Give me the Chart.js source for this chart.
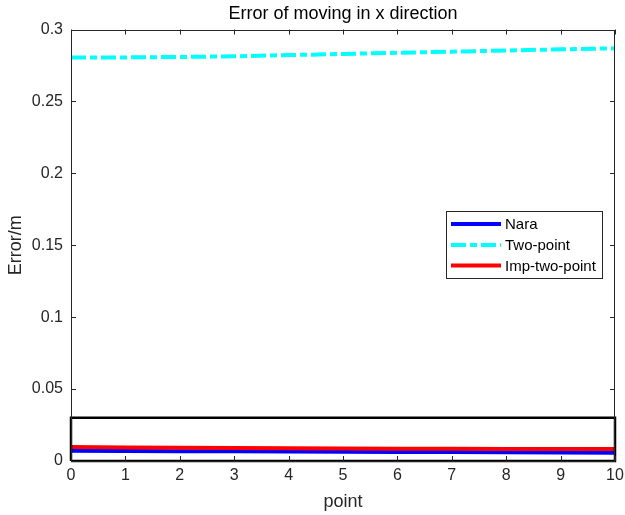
<!DOCTYPE html>
<html>
<head>
<meta charset="utf-8">
<script src="https://cdn.jsdelivr.net/npm/chart.js@4/dist/chart.umd.min.js"></script>
<style>
  html, body { margin: 0; padding: 0; background: #fff; }
  #wrap { width: 625px; height: 515px; position: relative; }
</style>
</head>
<body>
<div id="wrap"><canvas id="c" width="625" height="515"></canvas></div>
<script>
// ---- data ----
const points = [0, 1, 2, 3, 4, 5, 6, 7, 8, 9, 10];
const naraErr = [0.0072, 0.0070, 0.0068, 0.0067, 0.0066, 0.0065, 0.0063, 0.0062, 0.0061, 0.0059, 0.0058];
const twoPointErr = [0.2805, 0.2806, 0.2809, 0.2814, 0.2822, 0.2830, 0.2838, 0.2846, 0.2854, 0.2862, 0.2869];
const impTwoPointErr = [0.0097, 0.0094, 0.0092, 0.0090, 0.0088, 0.0087, 0.0086, 0.0085, 0.0084, 0.0083, 0.0083];
const seriesNames = ['Nara', 'Two-point', 'Imp-two-point'];
const yTickLabels = ['0', '0.05', '0.1', '0.15', '0.2', '0.25', '0.3'];
const xTickLabels = ['0', '1', '2', '3', '4', '5', '6', '7', '8', '9', '10'];
const zoomBoxX = [0, 10, 10, 0, 0];
const zoomBoxY = [0, 0, 0.03, 0.03, 0];

const FONT = 'Arial, "Liberation Sans", sans-serif';
const AX = '#262626';
const dashDot = [15, 4, 7, 4];

const toXY = (xs, ys) => xs.map((x, i) => ({ x: x, y: ys[i] }));

const framePlugin = {
  id: 'frame',
  afterDatasetsDraw(chart) {
    const { ctx, chartArea: a, scales } = chart;
    ctx.save();
    ctx.strokeStyle = AX;
    ctx.lineWidth = 1;
    ctx.beginPath();
    const tl = 5;
    scales.x.ticks.forEach(t => {
      const px = Math.round(scales.x.getPixelForValue(t.value)) + 0.5;
      ctx.moveTo(px, a.bottom); ctx.lineTo(px, a.bottom - tl);
      ctx.moveTo(px, a.top); ctx.lineTo(px, a.top + tl);
    });
    scales.y.ticks.forEach(t => {
      const py = Math.round(scales.y.getPixelForValue(t.value)) + 0.5;
      ctx.moveTo(a.left, py); ctx.lineTo(a.left + tl, py);
      ctx.moveTo(a.right, py); ctx.lineTo(a.right - tl, py);
    });
    ctx.stroke();
    ctx.strokeRect(Math.round(a.left) + 0.5, Math.round(a.top) + 0.5,
                   Math.round(a.right - a.left) - 1, Math.round(a.bottom - a.top) - 1);
    ctx.restore();
  }
};

const legendPlugin = {
  id: 'boxLegend',
  afterDraw(chart) {
    const { ctx } = chart;
    const bx = 446, by = 211, bw = 156, bh = 67;
    ctx.save();
    ctx.fillStyle = '#fff';
    ctx.fillRect(bx, by, bw, bh);
    ctx.strokeStyle = AX;
    ctx.lineWidth = 1;
    ctx.strokeRect(bx + 0.5, by + 0.5, bw, bh);
    const rows = [224, 245, 265.5];
    for (let i = 0; i < 3; i++) {
      const ds = chart.data.datasets[i];
      ctx.beginPath();
      ctx.strokeStyle = ds.borderColor;
      ctx.lineWidth = 4;
      ctx.setLineDash(ds.borderDash || []);
      ctx.moveTo(451, rows[i]);
      ctx.lineTo(501, rows[i]);
      ctx.stroke();
      ctx.setLineDash([]);
      ctx.fillStyle = '#000';
      ctx.font = '15px ' + FONT;
      ctx.textBaseline = 'middle';
      ctx.textAlign = 'left';
      ctx.fillText(ds.label, 505, rows[i] + 1);
    }
    ctx.restore();
  }
};

new Chart(document.getElementById('c'), {
  type: 'line',
  data: {
    datasets: [
      { label: seriesNames[0], data: toXY(points, naraErr), borderColor: '#0000ff', borderWidth: 4, pointRadius: 0, tension: 0, order: 2 },
      { label: seriesNames[1], data: toXY(points, twoPointErr), borderColor: '#00ffff', borderWidth: 4, borderDash: dashDot, pointRadius: 0, tension: 0, order: 1 },
      { label: seriesNames[2], data: toXY(points, impTwoPointErr), borderColor: '#ff0000', borderWidth: 4, pointRadius: 0, tension: 0, order: 0 },
      { label: 'zoom', data: toXY(zoomBoxX, zoomBoxY), borderColor: '#000000', borderWidth: 2.5, pointRadius: 0, tension: 0, clip: false, order: -1 }
    ]
  },
  options: {
    responsive: false,
    animation: false,
    devicePixelRatio: 1,
    layout: { padding: { left: 0, right: 10, top: 0, bottom: 0 } },
    plugins: {
      legend: { display: false },
      tooltip: { enabled: false },
      title: {
        display: true,
        fullSize: false,
        text: 'Error of moving in x direction',
        color: '#000',
        font: { family: FONT, size: 18, weight: 'normal', lineHeight: 1.2 },
        padding: { top: 3, bottom: 4.9 }
      }
    },
    scales: {
      x: {
        type: 'linear',
        min: 0, max: 10,
        grid: { display: false, drawTicks: false },
        border: { display: false },
        ticks: {
          stepSize: 1,
          color: AX,
          font: { family: FONT, size: 16 },
          padding: 5,
          maxRotation: 0,
          callback: (v, i) => xTickLabels[i]
        },
        title: { display: true, text: 'point', color: AX, font: { family: FONT, size: 18 }, padding: { top: 0, bottom: 2.2 } },
        afterFit: s => { s.height = 54; s.paddingLeft = 0; s.paddingRight = 0; }
      },
      y: {
        type: 'linear',
        min: 0, max: 0.3,
        grid: { display: false, drawTicks: false },
        border: { display: false },
        ticks: {
          stepSize: 0.05,
          color: AX,
          font: { family: FONT, size: 16 },
          padding: 8,
          callback: (v, i) => yTickLabels[i]
        },
        title: { display: true, text: 'Error/m', color: AX, font: { family: FONT, size: 18 }, padding: { top: 5, bottom: 0 } },
        afterFit: s => { s.width = 71; s.paddingTop = 0; s.paddingBottom = 0; }
      }
    }
  },
  plugins: [framePlugin, legendPlugin]
});
</script>
</body>
</html>
